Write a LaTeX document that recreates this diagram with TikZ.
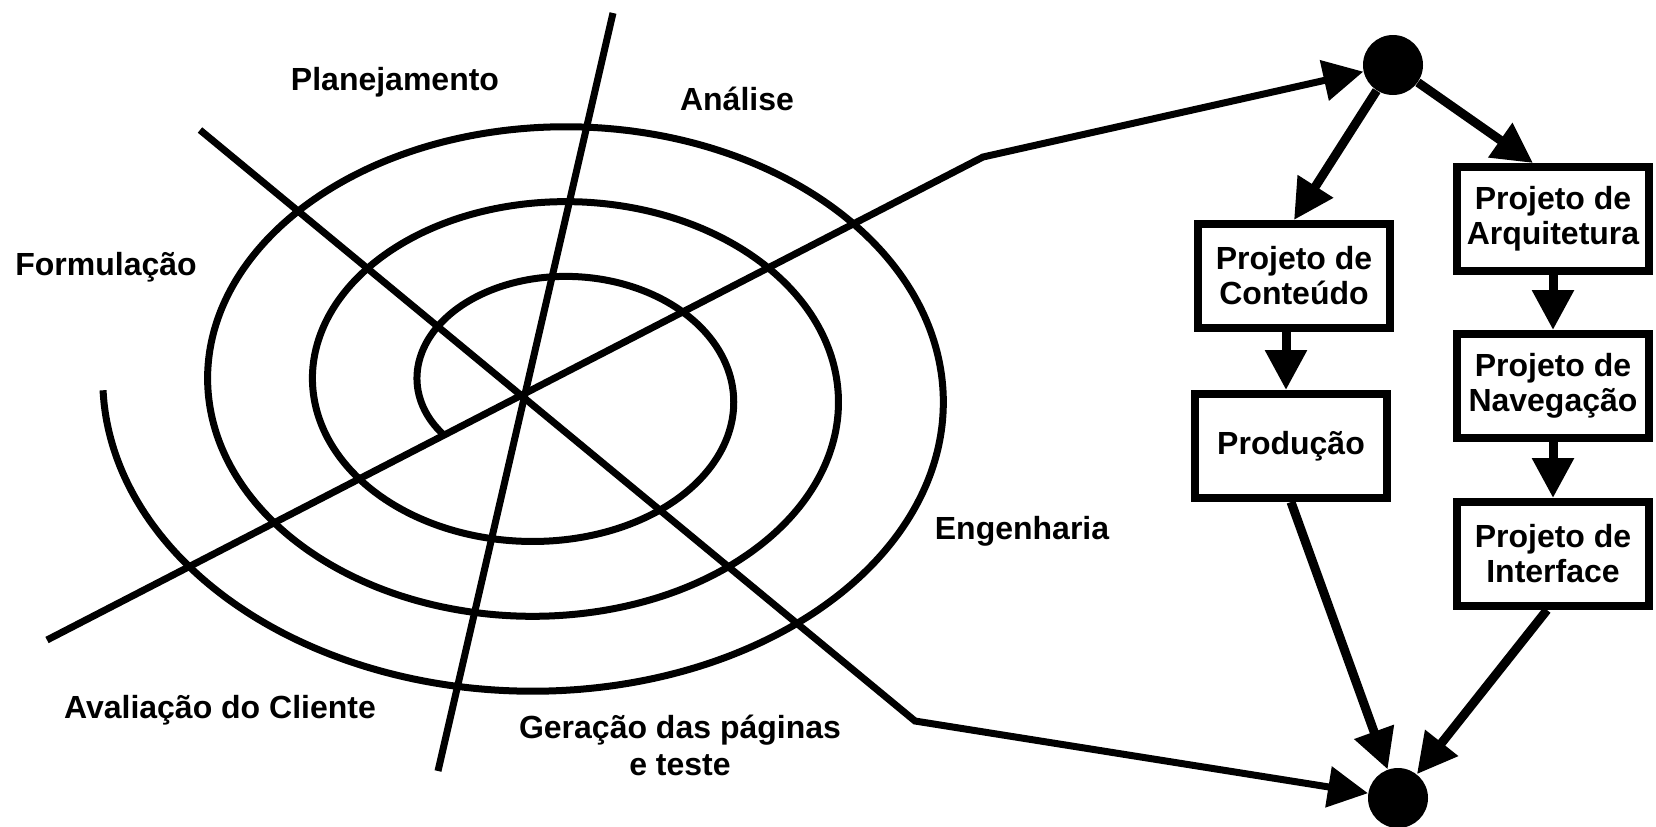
\documentclass[tikz,border=0pt]{standalone}
\usepackage{fontspec}
\setmainfont{Liberation Sans}
\usetikzlibrary{arrows.meta}
\begin{document}
\begin{tikzpicture}[x=0.5pt,y=-0.5pt,
  lbl/.style={font=\fontsize{16}{18.5}\selectfont\bfseries, inner sep=0pt, align=center},
  stepbox/.style={draw, line width=4pt, minimum width=96pt, minimum height=52pt, align=center, inner sep=0pt, font=\fontsize{16}{17.5}\selectfont\bfseries},
  dot/.style={circle, fill=black, minimum size=30pt, inner sep=0pt},
  tipstyle/.style={-{Triangle[length=20pt,width=20pt]}},
  conn/.style={line width=4.5pt, tipstyle},
  ray/.style={line width=3.5pt},
  ]
\useasboundingbox (0,0) rectangle (1656,826);

% spiral
\draw[ray] plot[domain=0:1110, samples=450, smooth, variable=\t]
  ({549.25 + (122.5+0.29167*\t)*cos(210-\t)}, {390.25 - (88.25+0.20833*\t)*sin(210-\t)});

% right-side nodes
\node[dot] (top) at (1393,65) {};
\node[dot] (bot) at (1398,798) {};
\node[stepbox] (cont) at (1294,276) {Projeto de\\Conteúdo};
\node[stepbox] (prod) at (1291,446) {Produção};
\node[stepbox] (arch) at (1553,219) {Projeto de\\Arquitetura};
\node[stepbox] (nav) at (1553,386) {Projeto de\\Navegação};
\node[stepbox] (iface) at (1553,554) {Projeto de\\Interface};

% radial lines
\coordinate (va) at (613,13);
\coordinate (vb) at (438,771);
\coordinate (da) at (200,130);
\coordinate (db) at (915,721);
\coordinate (ea) at (47,640);
\coordinate (eb) at (983,157);
\draw[ray] (va) -- (vb);
\draw[ray, tipstyle] (da) -- (db) -- (bot);
\draw[ray, tipstyle] (ea) -- (eb) -- (top);

% connectors
\draw[conn] (top) -- (cont.north);
\draw[conn] (top) -- ([xshift=-10pt]arch.north);
\draw[conn] ([xshift=-4pt]cont.south) -- ([xshift=-4pt]cont.south |- prod.north);
\draw[conn] (arch.south) -- (nav.north);
\draw[conn] (nav.south) -- (iface.north);
\draw[conn] (prod.south) -- (bot);
\draw[conn] ([xshift=-3pt]iface.south) -- (bot);

% labels
\node[lbl, anchor=base] (lplan) at (395,90) {Planejamento};
\node[lbl, anchor=base] (lanal) at (737,110) {Análise};
\node[lbl, anchor=base] (lform) at (106,275) {Formulação};
\node[lbl, anchor=base] (leng) at (1022,539) {Engenharia};
\node[lbl, anchor=base] (laval) at (220,718) {Avaliação do Cliente};
\node[lbl, anchor=base] (lger) at (680,775) {Geração das páginas\\e teste};
\end{tikzpicture}
\end{document}
